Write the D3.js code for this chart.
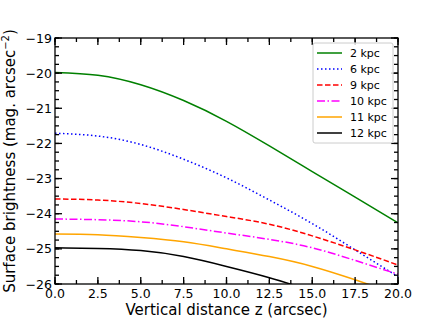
<!DOCTYPE html>
<html>
<head>
<meta charset="utf-8">
<script src="https://cdn.jsdelivr.net/npm/d3@7"></script>
<style>
  body { margin: 0; background: #fff; }
  svg { font-family: "DejaVu Sans", sans-serif; }
</style>
</head>
<body>
<div id="graph"></div>
<script>
// values
const zValues = [0, 2.5, 5, 7.5, 10, 12.5, 15, 17.5, 20];
const kpc2  = [-19.98, -20.06, -20.33, -20.78, -21.37, -22.07, -22.8, -23.53, -24.26];
const kpc6  = [-21.71, -21.79, -22.03, -22.45, -22.98, -23.61, -24.28, -25.03, -25.79];
const kpc9  = [-23.58, -23.61, -23.71, -23.88, -24.08, -24.3, -24.63, -25.03, -25.46];
const kpc10 = [-24.15, -24.17, -24.23, -24.37, -24.55, -24.73, -24.97, -25.33, -25.72];
const kpc11 = [-24.58, -24.6, -24.68, -24.8, -25.0, -25.22, -25.5, -25.88, -26.3];
const kpc12 = [-24.97, -24.99, -25.05, -25.22, -25.5, -25.82, -26.2, -26.6, -27.0];
const seriesNames = ["2 kpc", "6 kpc", "9 kpc", "10 kpc", "11 kpc", "12 kpc"];
const xTicks = [0, 2.5, 5, 7.5, 10, 12.5, 15, 17.5, 20];
const yTicks = [-19, -20, -21, -22, -23, -24, -25, -26];

const series = [
  { name: seriesNames[0], values: kpc2,  color: "#008000", dash: null },
  { name: seriesNames[1], values: kpc6,  color: "#0000ff", dash: "1.5,2.5" },
  { name: seriesNames[2], values: kpc9,  color: "#ff0000", dash: "5.5,2.5" },
  { name: seriesNames[3], values: kpc10, color: "#ff00ff", dash: "8,2.5,1.5,2.5" },
  { name: seriesNames[4], values: kpc11, color: "#ffa500", dash: null },
  { name: seriesNames[5], values: kpc12, color: "#000000", dash: null }
];

const width = 443, height = 319;
const margin = { left: 55, right: 45, top: 38, bottom: 35 };
const W = width - margin.left - margin.right;
const H = height - margin.top - margin.bottom;

const svg = d3.select("#graph").append("svg")
  .attr("width", width).attr("height", height);

const x = d3.scaleLinear().domain([0, 20]).range([0, W]);
const y = d3.scaleLinear().domain([-26, -19]).range([H, 0]);

const chart = svg.append("g")
  .attr("transform", `translate(${margin.left},${margin.top})`);

chart.append("clipPath").attr("id", "clip")
  .append("rect").attr("width", W).attr("height", H);

const line = d3.line()
  .x((d, i) => x(zValues[i]))
  .y(d => y(d))
  .curve(d3.curveNatural);

chart.append("g").attr("clip-path", "url(#clip)")
  .selectAll("path")
  .data(series)
  .join("path")
  .attr("d", d => line(d.values))
  .attr("fill", "none")
  .attr("stroke", d => d.color)
  .attr("stroke-width", 1.5)
  .attr("stroke-dasharray", d => d.dash);

// minor ticks
const xMinor = d3.range(0, 20.01, 1.25);
const yMinor = d3.range(-26, -18.99, 0.25);

function ticks(g, vals, len, horizontal) {
  vals.forEach(v => {
    if (horizontal) {
      g.append("line").attr("x1", x(v)).attr("x2", x(v)).attr("y1", H).attr("y2", H - len);
      g.append("line").attr("x1", x(v)).attr("x2", x(v)).attr("y1", 0).attr("y2", len);
    } else {
      g.append("line").attr("y1", y(v)).attr("y2", y(v)).attr("x1", 0).attr("x2", len);
      g.append("line").attr("y1", y(v)).attr("y2", y(v)).attr("x1", W).attr("x2", W - len);
    }
  });
}

const tg = chart.append("g").attr("stroke", "#000").attr("stroke-width", 1.3);
ticks(tg, xMinor, 4, true);
ticks(tg, xTicks, 7, true);
ticks(tg, yMinor, 4, false);
ticks(tg, yTicks, 7, false);

chart.append("rect")
  .attr("width", W).attr("height", H)
  .attr("fill", "none").attr("stroke", "#000").attr("stroke-width", 1.3);

const fmtMinus = s => s.replace("-", "\u2212");

chart.append("g").selectAll("text")
  .data(xTicks).join("text")
  .attr("x", d => x(d)).attr("y", H + 14)
  .attr("text-anchor", "middle")
  .attr("font-size", 12.5)
  .text(d => d.toFixed(1));

chart.append("g").selectAll("text")
  .data(yTicks).join("text")
  .attr("x", -3).attr("y", d => y(d) + 4.5)
  .attr("text-anchor", "end")
  .attr("font-size", 12.5)
  .text(d => fmtMinus(String(d)));

svg.append("text")
  .attr("x", margin.left + W / 2).attr("y", 315)
  .attr("text-anchor", "middle")
  .attr("font-size", 15)
  .text("Vertical distance z (arcsec)");

const yl = svg.append("text")
  .attr("transform", `translate(15,${margin.top + H / 2}) rotate(-90)`)
  .attr("text-anchor", "middle")
  .attr("font-size", 15);
yl.append("tspan").text("Surface brightness (mag. arcsec");
yl.append("tspan").attr("dy", -6).attr("font-size", 10).text("\u22122");
yl.append("tspan").attr("dy", 6).text(")");

// legend
const lg = chart.append("g").attr("transform", `translate(${W - 85},5)`);
lg.append("rect")
  .attr("width", 80).attr("height", 100).attr("rx", 2)
  .attr("fill", "#fff").attr("fill-opacity", 0.8)
  .attr("stroke", "#ccc").attr("stroke-width", 1);

const items = lg.selectAll("g.item").data(series).join("g")
  .attr("transform", (d, i) => `translate(0,${10 + i * 16})`);
items.append("line")
  .attr("x1", 4).attr("x2", 29)
  .attr("stroke", d => d.color).attr("stroke-width", 1.5)
  .attr("stroke-dasharray", d => d.dash);
items.append("text")
  .attr("x", 37).attr("y", 4)
  .attr("font-size", 11)
  .text(d => d.name);
</script>
</body>
</html>
